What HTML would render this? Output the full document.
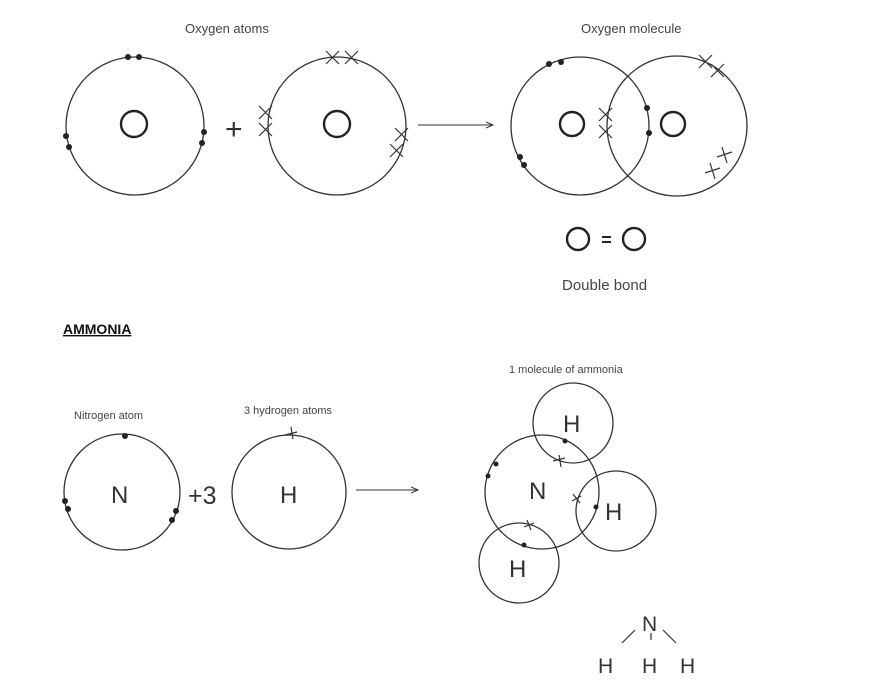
<!DOCTYPE html>
<html><head><meta charset="utf-8"><style>
body{margin:0;background:#fff;}
svg{display:block;font-family:"Liberation Sans",sans-serif;}
</style></head><body>
<svg width="894" height="686" viewBox="0 0 894 686" xmlns="http://www.w3.org/2000/svg">
<defs><marker id="ah" markerWidth="8" markerHeight="8" refX="7" refY="4" orient="auto"><path d="M0,1 L7,4 L0,7" fill="none" stroke="#333" stroke-width="1"/></marker></defs>
<g fill="none" stroke="#333" stroke-width="1.3">
<circle cx="135" cy="126" r="69"/>
<circle cx="337" cy="126" r="69"/>
<circle cx="580" cy="126" r="69"/>
<circle cx="677" cy="126" r="70"/>
<circle cx="122" cy="492" r="58"/>
<circle cx="289" cy="492" r="57"/>
<circle cx="542" cy="492" r="57"/>
<circle cx="573" cy="423" r="40"/>
<circle cx="616" cy="511" r="40"/>
<circle cx="519" cy="563" r="40"/>
<line x1="418" y1="125" x2="493" y2="125" marker-end="url(#ah)" stroke-width="1"/>
<line x1="356" y1="490" x2="418" y2="490" marker-end="url(#ah)" stroke-width="1"/>
</g>
<g fill="none" stroke="#222" stroke-width="2.4">
<circle cx="134" cy="124" r="13"/><circle cx="337" cy="124" r="13"/>
<circle cx="572" cy="124" r="12"/><circle cx="673" cy="124" r="12"/>
<circle cx="578" cy="239" r="11"/><circle cx="634" cy="239" r="11"/>
</g>
<g fill="#222">
<circle cx="128" cy="57" r="3"/><circle cx="139" cy="57" r="3"/>
<circle cx="66" cy="136" r="3"/><circle cx="69" cy="147" r="3"/>
<circle cx="204" cy="132" r="3"/><circle cx="202" cy="143" r="3"/>
<circle cx="549" cy="64" r="3"/><circle cx="561" cy="62" r="3"/>
<circle cx="520" cy="157" r="3"/><circle cx="524" cy="165" r="3"/>
<circle cx="647" cy="108" r="3"/><circle cx="649" cy="133" r="3"/>
<circle cx="125" cy="436" r="3"/><circle cx="65" cy="501" r="3"/><circle cx="68" cy="509" r="3"/>
<circle cx="176" cy="511" r="3"/><circle cx="172" cy="520" r="3"/>
<circle cx="565" cy="441" r="2.5"/><circle cx="496" cy="464" r="2.5"/><circle cx="488" cy="476" r="2.5"/>
<circle cx="596" cy="507" r="2.5"/><circle cx="524" cy="545" r="2.5"/>
<rect x="602" y="236" width="9" height="2"/><rect x="602" y="241" width="9" height="2"/>
</g>
<g stroke="#333" stroke-width="1.2">
<path d="M326,51l13,13M339,51l-13,13M345,51l13,13M358,51l-13,13"/>
<path d="M259,106l13,13M272,106l-13,13M259,123l13,13M272,123l-13,13"/>
<path d="M395,128l13,13M408,128l-13,13M390,144l13,13M403,144l-13,13"/>
<path d="M599,108l13,13M612,108l-13,13M599,125l13,13M612,125l-13,13"/>
<path d="M699,55l13,13M712,55l-13,13M711,64l13,13M724,64l-13,13"/>
<path d="M717,157l15,-5M722,147l5,16M705,173l15,-5M710,163l5,16"/>
<path d="M285,435l12,-3M291,427l2,12"/>
<path d="M553,461l12,-3M559,455l2,12"/>
<path d="M572,501l9,-5M573,494l7,9"/>
<path d="M524,527l10,-4M527,520l4,10"/>
<path d="M635,630l-13,13M651,633v7M663,630l13,13"/>
</g>
<g fill="#444" font-size="13">
<text x="185" y="33">Oxygen atoms</text>
<text x="581" y="33">Oxygen molecule</text>
<text x="562" y="290" font-size="15">Double bond</text>
<text x="74" y="419" font-size="11">Nitrogen atom</text>
<text x="244" y="414" font-size="11">3 hydrogen atoms</text>
<text x="509" y="373" font-size="11">1 molecule of ammonia</text>
</g>
<text x="63" y="334" font-size="14" fill="#111" text-decoration="underline" style="font-weight:bold">AMMONIA</text>
<g fill="#333" font-size="24">
<text x="225" y="139" font-size="30">+</text>
<text x="188" y="504" font-size="25">+3</text>
<text x="111" y="503">N</text><text x="280" y="503">H</text>
<text x="529" y="499">N</text><text x="563" y="432">H</text>
<text x="605" y="520">H</text><text x="509" y="577">H</text>
<text x="642" y="631" font-size="21">N</text>
<text x="598" y="673" font-size="21">H</text><text x="642" y="673" font-size="21">H</text><text x="680" y="673" font-size="21">H</text>
</g>
</svg>
</body></html>
